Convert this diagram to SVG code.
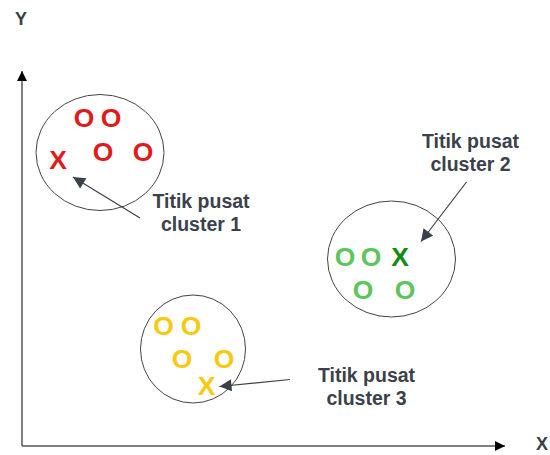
<svg xmlns="http://www.w3.org/2000/svg" width="550" height="455" viewBox="0 0 550 455">
<style>
.ax{stroke:#555;stroke-width:1.5;fill:none}
.cl{fill:none;stroke:#444;stroke-width:1}
.pt{font-family:"Liberation Sans",Arial,sans-serif;font-weight:bold;font-size:26.5px;text-anchor:middle}
.lb{font-family:"Liberation Sans",Arial,sans-serif;font-weight:bold;font-size:19.5px;fill:#3a414a;text-anchor:middle}
.axl{font-family:"Liberation Sans",Arial,sans-serif;font-weight:bold;font-size:18px;fill:#3a414a;text-anchor:middle}
.ar{stroke:#3a414a;stroke-width:1.2;fill:none}
.r{fill:#e01b1b}.g{fill:#5cc65c}.dg{fill:#138a13}.y{fill:#f9c912}
</style>
<defs>
<marker id="ah" viewBox="0 0 10 10" refX="10" refY="5" markerWidth="10" markerHeight="10" markerUnits="userSpaceOnUse" orient="auto"><path d="M0,0 L10,5 L0,10 z" fill="#000"/></marker>
<marker id="la" viewBox="0 0 10 10" refX="10" refY="5" markerWidth="14" markerHeight="12" markerUnits="userSpaceOnUse" orient="auto"><path d="M0,0 L10,5 L0,10 z" fill="#3a414a"/></marker>
</defs>
<g id="axes">
<line class="ax" x1="22" y1="446" x2="22" y2="71" marker-end="url(#ah)"/>
<line class="ax" x1="22" y1="446" x2="505" y2="446" marker-end="url(#ah)"/>
<text class="axl" x="21" y="25">Y</text>
<text class="axl" x="542" y="450">X</text>
</g>
<g id="cluster1">
<ellipse class="cl" cx="100" cy="152.5" rx="64" ry="58"/>
<text class="pt r" x="84" y="127">O</text>
<text class="pt r" x="111" y="127">O</text>
<text class="pt r" x="103" y="161">O</text>
<text class="pt r" x="143" y="161">O</text>
<text class="pt r" x="58" y="169">X</text>
</g>
<g id="cluster2">
<ellipse class="cl" cx="391.5" cy="259" rx="64" ry="58"/>
<text class="pt g" x="345" y="266">O</text>
<text class="pt g" x="371" y="266">O</text>
<text class="pt dg" x="400" y="266">X</text>
<text class="pt g" x="363" y="299">O</text>
<text class="pt g" x="405" y="299">O</text>
</g>
<g id="cluster3">
<ellipse class="cl" cx="193" cy="349" rx="52.5" ry="54"/>
<text class="pt y" x="163.5" y="335">O</text>
<text class="pt y" x="191" y="335">O</text>
<text class="pt y" x="182" y="368">O</text>
<text class="pt y" x="224" y="368">O</text>
<text class="pt y" x="206.5" y="395">X</text>
</g>
<g id="label1">
<text class="lb" x="201" y="208">Titik pusat</text>
<text class="lb" x="201" y="231">cluster 1</text>
</g>
<g id="label2">
<text class="lb" x="470.5" y="148">Titik pusat</text>
<text class="lb" x="470.5" y="171">cluster 2</text>
</g>
<g id="label3">
<text class="lb" x="366.5" y="382">Titik pusat</text>
<text class="lb" x="366.5" y="405">cluster 3</text>
</g>
<g id="connectors">
<line class="ar" x1="140" y1="218" x2="73" y2="177" marker-end="url(#la)"/>
<line class="ar" x1="466.5" y1="182" x2="421" y2="241.5" marker-end="url(#la)"/>
<line class="ar" x1="290" y1="379.5" x2="219.5" y2="386.5" marker-end="url(#la)"/>
</g>
</svg>
